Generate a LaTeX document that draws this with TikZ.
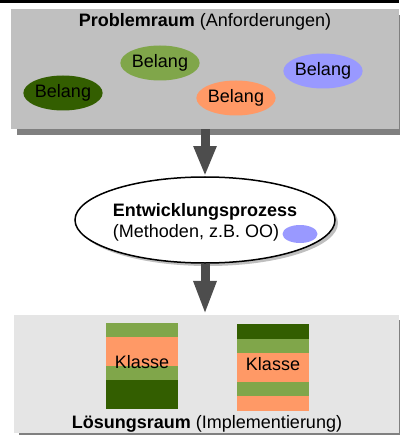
\documentclass[tikz,border=0pt]{standalone}
\usepackage{fontspec}
\setmainfont{Liberation Sans}
\usetikzlibrary{shapes.geometric,shadows,arrows.meta}
\definecolor{probgray}{RGB}{192,192,192}
\definecolor{loesgray}{RGB}{229,229,229}
\definecolor{shadowgray}{RGB}{128,128,128}
\definecolor{arrowgray}{RGB}{77,77,77}
\definecolor{dkgreen}{RGB}{51,94,0}
\definecolor{ltgreen}{RGB}{128,166,74}
\definecolor{belangorange}{RGB}{255,153,102}
\definecolor{lavender}{RGB}{153,153,255}

\begin{document}
\begin{tikzpicture}[x=1pt,y=-1pt,font=\fontsize{18}{21}\selectfont]
            \tikzset{belang/.style={ellipse,fill=#1,minimum width=67,minimum height=35,inner sep=0pt}};
            \tikzset{raum/.style 2 args={rectangle,fill=#1,inner sep=0pt,drop shadow={shadow xshift=#2,shadow yshift=-#2,fill=shadowgray,opacity=1}}};
            \tikzset{blockarrow/.style={arrowgray,line width=9pt,-{Triangle[width=21pt,length=#1]}}};
            \useasboundingbox (0,0) rectangle (399,435);
            \fill[black] (0,0) rectangle (399,3);

            \node[raum={probgray}{6pt},minimum width=388,minimum height=120] (problem) at (205,69) {};
            \node (problemtitle) at (205,22) {\textbf{Problemraum} (Anforderungen)};

            \node[belang=dkgreen] (b1) at (63,93) {Belang};
            \node[belang=ltgreen] (b2) at (160,63) {Belang};
            \node[belang=belangorange] (b3) at (236,98) {Belang};
            \node[belang=lavender] (b4) at (323,71) {Belang};

            \node[ellipse,draw,line width=1.5pt,fill=white,minimum width=260,minimum height=86,
                  drop shadow={shadow xshift=3pt,shadow yshift=-3pt,opacity=.5}] (proc) at (205,220) {};
            \node (procname) at (205,212) {\textbf{Entwicklungsprozess}};
            \node (procmeth) at (196,233) {(Methoden, z.B. OO)};
            \node[ellipse,fill=lavender,minimum width=35,minimum height=18,inner sep=0pt] (oo) at (300,234) {};

            \node[raum={loesgray}{5pt},minimum width=385,minimum height=118] (loesung) at (206.5,374) {};

            \foreach \ya/\yb/\col in {323/337/ltgreen,337/366/belangorange,366/380/ltgreen,380/409/dkgreen}
                \fill[\col] (106,\ya) rectangle (178,\yb);
            \foreach \ya/\yb/\col in {324/339/dkgreen,339/353/ltgreen,353/382/belangorange,382/396/ltgreen,396/411/belangorange}
                \fill[\col] (237,\ya) rectangle (309,\yb);
            \node (klasse1) at (142,362) {Klasse};
            \node (klasse2) at (273,364) {Klasse};
            \node (loesungtitle) at (207,424) {\textbf{Lösungsraum} (Implementierung)};

            \draw[blockarrow=30pt] (problem.south) -- (proc.north);
            \draw[blockarrow=34pt] (proc.south) -- (proc.south |- loesung.north);
        \end{tikzpicture}
\end{document}
